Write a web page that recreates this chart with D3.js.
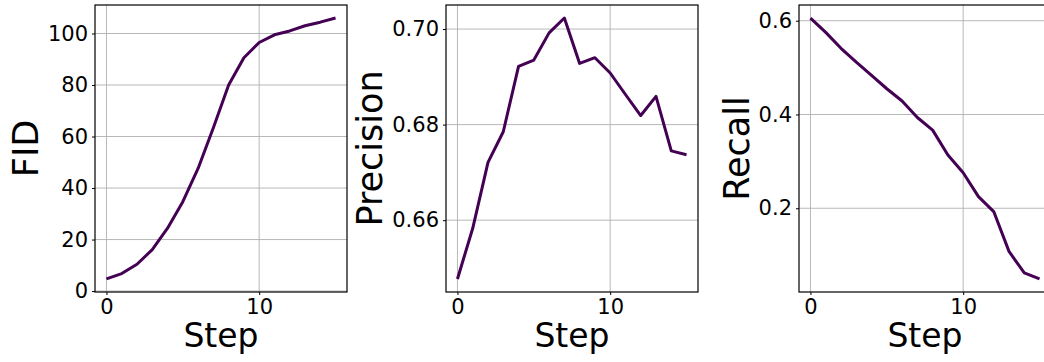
<!DOCTYPE html>
<html>
<head>
<meta charset="utf-8">
<script src="https://cdn.jsdelivr.net/npm/d3@7"></script>
<style>
  html, body { margin: 0; padding: 0; background: #fff; }
  svg { display: block; font-family: "DejaVu Sans", sans-serif; }
</style>
</head>
<body>
<svg id="chart" width="1044" height="362"></svg>
<script>
// values
const steps = [0, 1, 2, 3, 4, 5, 6, 7, 8, 9, 10, 11, 12, 13, 14, 15];
const fid = [4.7, 6.8, 10.4, 16.1, 24.4, 34.7, 47.6, 63.4, 80.0, 90.6, 96.5, 99.5, 101.0, 103.0, 104.4, 106.0];
const precision = [0.6477, 0.6583, 0.6721, 0.6785, 0.6922, 0.6935, 0.6992, 0.7023, 0.6928, 0.6940, 0.6908, 0.6863, 0.6819, 0.6859, 0.6745, 0.6737];
const recall = [0.6057, 0.5752, 0.5412, 0.5115, 0.4832, 0.4549, 0.4287, 0.3936, 0.3667, 0.3136, 0.2758, 0.2248, 0.1929, 0.1080, 0.0620, 0.0492];

const xTicks = [0, 10];
const fidTicks = [0, 20, 40, 60, 80, 100];
const precisionTicks = [0.66, 0.68, 0.70];
const recallTicks = [0.2, 0.4, 0.6];

const panels = [
  {label: "FID", values: fid, ticks: fidTicks, fmt: d3.format("d"), left: 95},
  {label: "Precision", values: precision, ticks: precisionTicks, fmt: d3.format(".2f"), left: 446},
  {label: "Recall", values: recall, ticks: recallTicks, fmt: d3.format(".1f"), left: 799}
];

const plotTop = 5, plotBottom = 292, plotW = 252;
const svg = d3.select("#chart");

// matplotlib style 5% padding around the data
function padded(ext) {
  const m = (ext[1] - ext[0]) * 0.05;
  return [ext[0] - m, ext[1] + m];
}

panels.forEach(p => {
  const x = d3.scaleLinear()
    .domain(padded(d3.extent(steps)))
    .range([p.left, p.left + plotW]);
  const y = d3.scaleLinear()
    .domain(padded(d3.extent(p.values)))
    .range([plotBottom, plotTop]);

  const g = svg.append("g");

  // grid
  g.append("g").selectAll("line")
    .data(p.ticks)
    .join("line")
    .attr("x1", p.left).attr("x2", p.left + plotW)
    .attr("y1", d => y(d)).attr("y2", d => y(d))
    .attr("stroke", "#b0b0b0").attr("stroke-width", 0.9);
  g.append("g").selectAll("line")
    .data(xTicks)
    .join("line")
    .attr("x1", d => x(d)).attr("x2", d => x(d))
    .attr("y1", plotTop).attr("y2", plotBottom)
    .attr("stroke", "#b0b0b0").attr("stroke-width", 0.9);

  // the line
  g.append("path")
    .datum(steps.map((s, i) => [s, p.values[i]]))
    .attr("fill", "none")
    .attr("stroke", "#440154")
    .attr("stroke-width", 3)
    .attr("stroke-linejoin", "round")
    .attr("d", d3.line().x(d => x(d[0])).y(d => y(d[1])));

  // frame
  g.append("rect")
    .attr("x", p.left).attr("y", plotTop)
    .attr("width", plotW).attr("height", plotBottom - plotTop)
    .attr("fill", "none").attr("stroke", "#000").attr("stroke-width", 1.2);

  // axes
  const ax = g.append("g")
    .attr("transform", "translate(0," + plotBottom + ")")
    .call(d3.axisBottom(x).tickValues(xTicks).tickSize(3).tickPadding(4).tickFormat(d3.format("d")));
  const ay = g.append("g")
    .attr("transform", "translate(" + p.left + ",0)")
    .call(d3.axisLeft(y).tickValues(p.ticks).tickSize(3).tickPadding(4).tickFormat(p.fmt));
  [ax, ay].forEach(a => {
    a.select(".domain").remove();
    a.selectAll("line").attr("stroke", "#000").attr("stroke-width", 1);
    a.selectAll("text").attr("font-size", 21).attr("fill", "#000")
      .attr("font-family", "DejaVu Sans, sans-serif");
  });

  // x label
  g.append("text")
    .attr("x", p.left + plotW / 2)
    .attr("y", 347)
    .attr("text-anchor", "middle")
    .attr("font-size", 33)
    .text("Step");

  // y label placed left of the widest tick label
  const tickLeft = d3.min(ay.selectAll("text").nodes(), n => {
    const b = n.getBBox();
    return p.left - 7 - b.width;
  });
  g.append("text")
    .attr("transform", "translate(" + (tickLeft - 10) + "," + ((plotTop + plotBottom) / 2) + ") rotate(-90)")
    .attr("text-anchor", "middle")
    .attr("font-size", 35)
    .text(p.label);
});
</script>
</body>
</html>
